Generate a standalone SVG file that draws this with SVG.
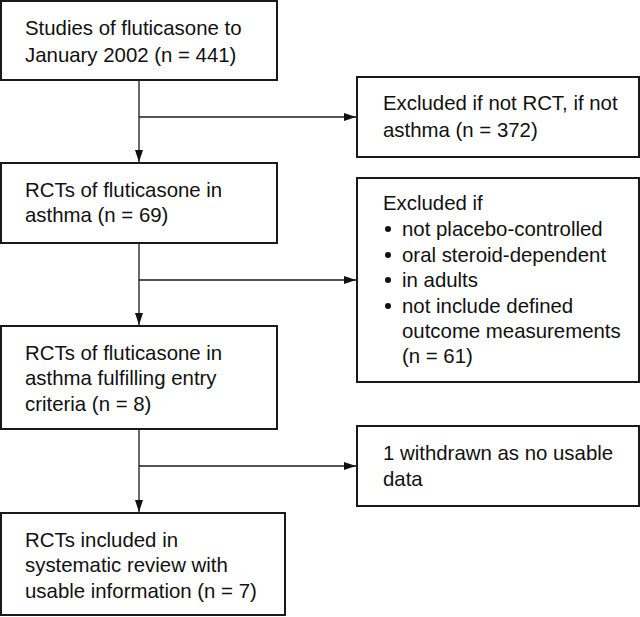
<svg xmlns="http://www.w3.org/2000/svg" width="640" height="617" viewBox="0 0 640 617">
<defs>
<marker id="ah" markerWidth="12" markerHeight="8" refX="12" refY="4" orient="auto" markerUnits="userSpaceOnUse">
<path d="M0,0 L12,4 L0,8 Z" fill="#111"/>
</marker>
<style>
rect.box{fill:#fff;stroke:#1a1a1a;stroke-width:2}
text{font-family:"Liberation Sans",Arial,sans-serif;font-size:20.4px;fill:#111}
.conn line,.conn path{stroke:#1a1a1a;stroke-width:1.3;fill:none}
</style>
</defs>
<rect width="640" height="617" fill="#fff"/>
<g class="conn" id="connectors">
<line x1="139" y1="80" x2="139" y2="162" marker-end="url(#ah)"/>
<line x1="139" y1="117" x2="356" y2="117" marker-end="url(#ah)"/>
<line x1="139" y1="243" x2="139" y2="325" marker-end="url(#ah)"/>
<line x1="139" y1="280" x2="356" y2="280" marker-end="url(#ah)"/>
<line x1="139" y1="429" x2="139" y2="512" marker-end="url(#ah)"/>
<line x1="139" y1="466" x2="356" y2="466" marker-end="url(#ah)"/>
</g>
<g id="n1"><rect class="box" x="1" y="1" width="276" height="79"/>
<text x="25" y="35">Studies of fluticasone to</text><text x="25" y="62">January 2002 (n = 441)</text></g>
<g id="n2"><rect class="box" x="1" y="163" width="276" height="80"/>
<text x="25" y="197">RCTs of fluticasone in</text><text x="25" y="222">asthma (n = 69)</text></g>
<g id="n3"><rect class="box" x="1" y="326" width="276" height="103"/>
<text x="25" y="360">RCTs of fluticasone in</text><text x="25" y="385">asthma fulfilling entry</text><text x="25" y="411">criteria (n = 8)</text></g>
<g id="n4"><rect class="box" x="1" y="513" width="284" height="102"/>
<text x="25" y="547">RCTs included in</text><text x="25" y="572">systematic review with</text><text x="25" y="598">usable information (n = 7)</text></g>
<g id="e1"><rect class="box" x="357" y="77" width="282" height="80"/>
<text x="383" y="110">Excluded if not RCT, if not</text><text x="383" y="137">asthma (n = 372)</text></g>
<g id="e2"><rect class="box" x="357" y="178" width="282" height="204"/>
<text x="383" y="210">Excluded if</text>
<circle cx="388" cy="229" r="3" fill="#111"/><text x="402" y="236">not placebo-controlled</text>
<circle cx="388" cy="255" r="3" fill="#111"/><text x="402" y="262">oral steroid-dependent</text>
<circle cx="388" cy="280" r="3" fill="#111"/><text x="402" y="287">in adults</text>
<circle cx="388" cy="306" r="3" fill="#111"/><text x="402" y="313">not include defined</text>
<text x="402" y="338">outcome measurements</text>
<text x="402" y="363">(n = 61)</text></g>
<g id="e3"><rect class="box" x="357" y="426" width="282" height="80"/>
<text x="383" y="460">1 withdrawn as no usable</text><text x="383" y="486">data</text></g>
</svg>
